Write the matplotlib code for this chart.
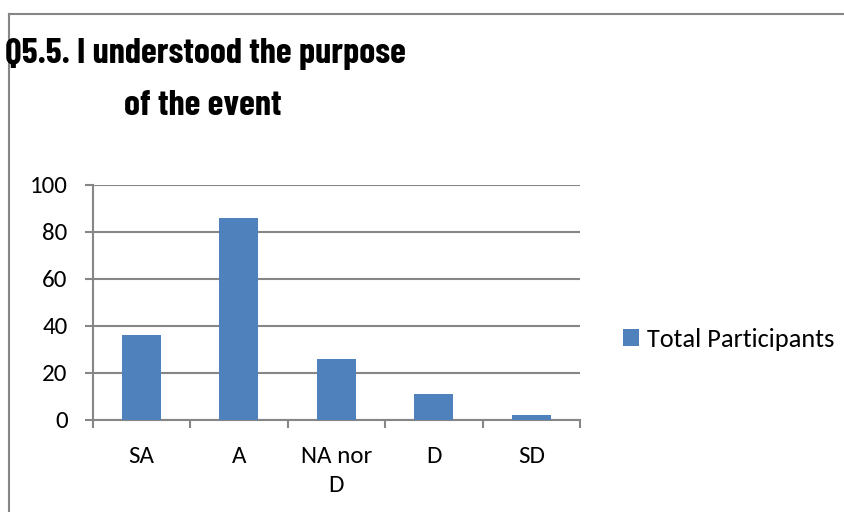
import matplotlib.pyplot as plt
from matplotlib.lines import Line2D

# Données
categories = ['SA', 'A', 'NA nor\nD', 'D', 'SD']
total_participants = [36, 86, 26, 11, 2]
y_ticks = [0, 20, 40, 60, 80, 100]

plt.rcParams['font.family'] = ['Carlito', 'DejaVu Sans']

fig = plt.figure(figsize=(8.45, 5.12), dpi=100)
ax = fig.add_axes([0.1097, 0.1797, 0.5767, 0.459])

x = list(range(len(categories)))
ax.bar(x, total_participants, width=0.4, color='#4F81BD', label='Total Participants', zorder=3)

ax.set_xlim(-0.5, len(categories) - 0.5)
ax.set_ylim(0, 100)
ax.set_yticks(y_ticks)
ax.set_yticklabels([str(v) for v in y_ticks], fontsize=18)
ax.set_xticks(x)
ax.set_xticklabels(categories, fontsize=18, linespacing=1.45)
ax.tick_params(axis='x', length=0, pad=19)
ax.set_xticks([i - 0.5 for i in range(len(categories) + 1)], minor=True)
ax.tick_params(axis='x', which='minor', length=6, width=1.5, color='#868686', direction='out')
ax.tick_params(axis='y', length=6, width=1.5, color='#868686', direction='out', pad=12)

ax.grid(axis='y', color='#868686', linewidth=1.5, zorder=0)
for s in ['top', 'right']:
    ax.spines[s].set_visible(False)
for s in ['left', 'bottom']:
    ax.spines[s].set_color('#868686')
    ax.spines[s].set_linewidth(1.5)

fig.legend(loc='center left', bbox_to_anchor=(0.737, 0.337), frameon=False,
           fontsize=19, handlelength=0.6, handleheight=0.6, handletextpad=0.3,
           borderpad=0, borderaxespad=0)

# titre sur deux lignes
titre_font = ['Barlow Condensed', 'Carlito', 'DejaVu Sans']
fig.text(205/845, 1 - 63/512, 'Q5.5. I understood the purpose', ha='center', va='baseline',
         fontsize=26, fontweight='bold', family=titre_font)
fig.text(203/845, 1 - 115/512, 'of the event', ha='center', va='baseline',
         fontsize=26, fontweight='bold', family=titre_font)

# cadre du graphique
fig.add_artist(Line2D([9/845, 9/845], [0, 1 - 14/512], color='#868686', linewidth=1.5, transform=fig.transFigure))
fig.add_artist(Line2D([9/845, 1], [1 - 14/512, 1 - 14/512], color='#868686', linewidth=1.5, transform=fig.transFigure))

fig.savefig('out.png', dpi=100)
